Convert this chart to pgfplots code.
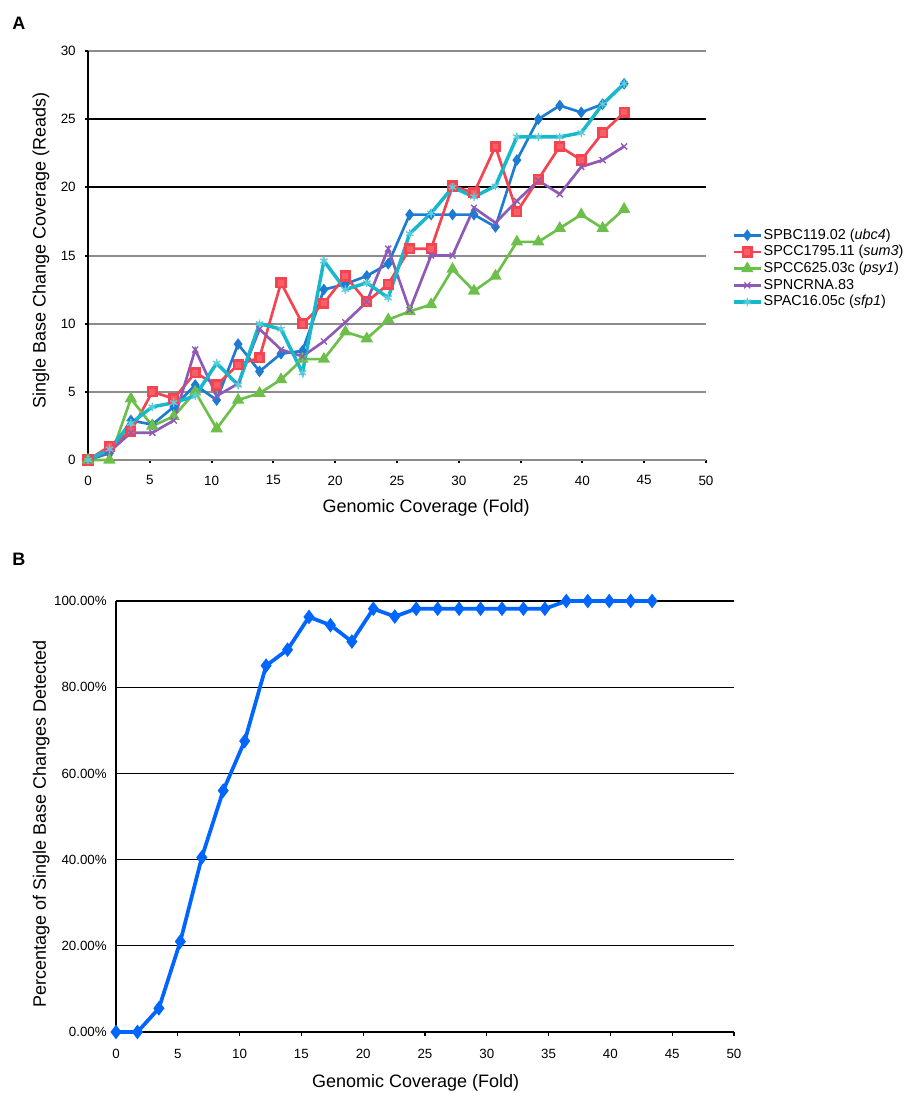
\documentclass[border=0pt]{standalone}
\usepackage{fontspec}
\setmainfont{Liberation Sans}
\usepackage{pgfplots}
\pgfplotsset{compat=1.18}
\definecolor{cblue}{HTML}{1E7BD2}
\definecolor{cred}{HTML}{F5434F}
\definecolor{cgreen}{HTML}{6CC04A}
\definecolor{cpurple}{HTML}{8F5AB5}
\definecolor{ccyan}{HTML}{16B8CC}
\definecolor{bline}{HTML}{0066FF}
\definecolor{ggrid}{HTML}{8C8C8C}
\begin{document}
\begin{tikzpicture}
\path[use as bounding box] (0,0) rectangle (679.5pt,-819.75pt);
\node[font=\bfseries\fontsize{13.5}{16}\selectfont, anchor=base west, inner sep=0pt] at (9pt,-21.75pt) {A};
\node[font=\bfseries\fontsize{13.5}{16}\selectfont, anchor=base west, inner sep=0pt] at (9pt,-423.75pt) {B};
\begin{axis}[
  at={(66pt,-345pt)}, anchor=south west,
  scale only axis, width=463.5pt, height=306.75pt,
  xmin=0, xmax=50, ymin=0, ymax=30,
  clip=false,
  axis lines=left, axis line style={-},
  x axis line style={draw=ggrid, line width=1.5pt},
  y axis line style={draw=black, line width=2pt},
  xtick={0,5,...,50},
  xticklabels={0,5,10,15,20,25,30,25,40,45,50},
  ytick={0,5,...,30},
  yticklabels={0,5,10,15,20,25,30},
  /pgf/number format/assume math mode=true,
  tick align=outside, major tick length=2pt,
  tick style={black, line width=1.5pt},
  ymajorgrids, grid style={ggrid, line width=1.5pt},
  extra y ticks={20,25}, extra y tick labels={},
  extra y tick style={grid style={black, line width=1.5pt}},
  tick label style={font=\fontsize{10.1}{12}\selectfont},
  xticklabel style={anchor=north, inner sep=0pt, yshift=-9.5pt},
  yticklabel style={anchor=east, inner sep=0pt, xshift=-7pt},
  xlabel={Genomic Coverage (Fold)},
  ylabel={Single Base Change Coverage (Reads)},
  every axis x label/.style={at={(rel axis cs:0.547,-0.117)}, anchor=center, font=\fontsize{13.5}{16}\selectfont},
  every axis y label/.style={at={(rel axis cs:-0.076,0.513)}, anchor=center, rotate=90, font=\fontsize{13.5}{16}\selectfont},
  legend style={at={(rel axis cs:1.042,0.468)}, anchor=west, draw=none, fill=none,
    inner sep=0pt, font=\fontsize{10.8}{13}\selectfont,
    nodes={inner sep=1pt, text height=8.2pt, text depth=2.3pt, anchor=west}},
  legend cell align=left,
  legend image code/.code={\draw[mark repeat=2,mark phase=2,#1] plot coordinates {(0pt,0pt) (10pt,0pt) (20pt,0pt)};},
]
\addplot[cblue, line width=2pt, mark=diamond*, mark size=2.8pt, mark options={solid}] coordinates {
(0,0) (1.735,0.5) (3.47,2.9) (5.205,2.6) (6.94,3.9) (8.675,5.5) (10.41,4.4) (12.145,8.5) (13.88,6.5) (15.615,7.8) (17.35,8.0) (19.085,12.5) (20.82,12.9) (22.555,13.5) (24.29,14.4) (26.025,18.0) (27.76,18.0) (29.495,18.0) (31.23,18.0) (32.965,17.1) (34.7,22.0) (36.435,25.0) (38.17,26.0) (39.905,25.5) (41.64,26.1) (43.375,27.6)};
\addlegendentry{SPBC119.02 (\textit{ubc4})}
\addplot[cred, line width=2pt, mark=square*, mark size=3.2pt, mark options={solid, fill=cred!85!white}] coordinates {
(0,0) (1.735,1.0) (3.47,2.1) (5.205,5.0) (6.94,4.5) (8.675,6.4) (10.41,5.5) (12.145,7.0) (13.88,7.5) (15.615,13.0) (17.35,10.0) (19.085,11.5) (20.82,13.5) (22.555,11.6) (24.29,12.9) (26.025,15.5) (27.76,15.5) (29.495,20.1) (31.23,19.6) (32.965,23.0) (34.7,18.2) (36.435,20.6) (38.17,23.0) (39.905,22.0) (41.64,24.0) (43.375,25.5)};
\addlegendentry{SPCC1795.11 (\textit{sum3})}
\addplot[cgreen, line width=2pt, mark=triangle*, mark size=3.4pt, mark options={solid}] coordinates {
(0,0) (1.735,0) (3.47,4.5) (5.205,2.5) (6.94,3.2) (8.675,5.0) (10.41,2.3) (12.145,4.4) (13.88,4.9) (15.615,5.9) (17.35,7.4) (19.085,7.4) (20.82,9.4) (22.555,8.9) (24.29,10.3) (26.025,10.9) (27.76,11.4) (29.495,14.0) (31.23,12.4) (32.965,13.5) (34.7,16.0) (36.435,16.0) (38.17,17.0) (39.905,18.0) (41.64,17.0) (43.375,18.4)};
\addlegendentry{SPCC625.03c (\textit{psy1})}
\addplot[cpurple, line width=2pt, mark=x, mark size=3.2pt, mark options={solid, line width=1pt}] coordinates {
(0,0) (1.735,0.6) (3.47,2.0) (5.205,2.0) (6.94,2.9) (8.675,8.1) (10.41,4.7) (12.145,5.6) (13.88,9.6) (15.615,8.1) (17.35,7.6) (19.085,8.7) (20.82,10.1) (22.555,11.6) (24.29,15.5) (26.025,11.0) (27.76,15.0) (29.495,15.0) (31.23,18.5) (32.965,17.4) (34.7,19.0) (36.435,20.5) (38.17,19.5) (39.905,21.5) (41.64,22.0) (43.375,23.0)};
\addlegendentry{SPNCRNA.83}
\addplot[ccyan, line width=2.6pt, mark=asterisk, mark size=3.2pt, mark options={solid, line width=1pt, ccyan!70!white}] coordinates {
(0,0) (1.735,0.8) (3.47,2.7) (5.205,3.9) (6.94,4.2) (8.675,4.7) (10.41,7.1) (12.145,5.5) (13.88,10.0) (15.615,9.6) (17.35,6.4) (19.085,14.6) (20.82,12.5) (22.555,13.0) (24.29,11.9) (26.025,16.6) (27.76,18.1) (29.495,20.0) (31.23,19.3) (32.965,20.1) (34.7,23.7) (36.435,23.7) (38.17,23.7) (39.905,24.0) (41.64,26.1) (43.375,27.6)};
\addlegendentry{SPAC16.05c (\textit{sfp1})}
\end{axis}
\begin{axis}[
  at={(87pt,-774pt)}, anchor=south west,
  scale only axis, width=463.5pt, height=323.25pt,
  xmin=0, xmax=50, ymin=0, ymax=100,
  clip=false,
  axis lines=left, axis line style={-, black, line width=1.5pt},
  xtick={0,5,...,50},
  xticklabels={0,5,10,15,20,25,30,35,40,45,50},
  ytick={0,20,...,100},
  yticklabels={0.00\%,20.00\%,40.00\%,60.00\%,80.00\%,100.00\%},
  /pgf/number format/assume math mode=true,
  tick align=outside, major tick length=3pt,
  xtick style={black, line width=1pt},
  ytick style={draw=none},
  ymajorgrids, grid style={black, line width=1pt},
  tick label style={font=\fontsize{10}{12}\selectfont},
  xticklabel style={anchor=north, inner sep=0pt, yshift=-9.5pt},
  yticklabel style={anchor=east, inner sep=0pt, xshift=-3.75pt},
  xlabel={Genomic Coverage (Fold)},
  ylabel={Percentage of Single Base Changes Detected},
  every axis x label/.style={at={(rel axis cs:0.485,-0.118)}, anchor=center, font=\fontsize{13.5}{16}\selectfont},
  every axis y label/.style={at={(rel axis cs:-0.121,0.483)}, anchor=center, rotate=90, font=\fontsize{13.5}{16}\selectfont},
]
\addplot[bline, line width=2.8pt, mark=diamond*, mark size=3.2pt, mark options={solid}] coordinates {
(0,0) (1.735,0) (3.47,5.5) (5.205,21.0) (6.94,40.5) (8.675,56.0) (10.41,67.5) (12.145,85.0) (13.88,88.7) (15.615,96.3) (17.35,94.4) (19.085,90.6) (20.82,98.2) (22.555,96.4) (24.29,98.2) (26.025,98.2) (27.76,98.2) (29.495,98.2) (31.23,98.2) (32.965,98.2) (34.7,98.2) (36.435,100) (38.17,100) (39.905,100) (41.64,100) (43.375,100)};
\end{axis}
\end{tikzpicture}
\end{document}
